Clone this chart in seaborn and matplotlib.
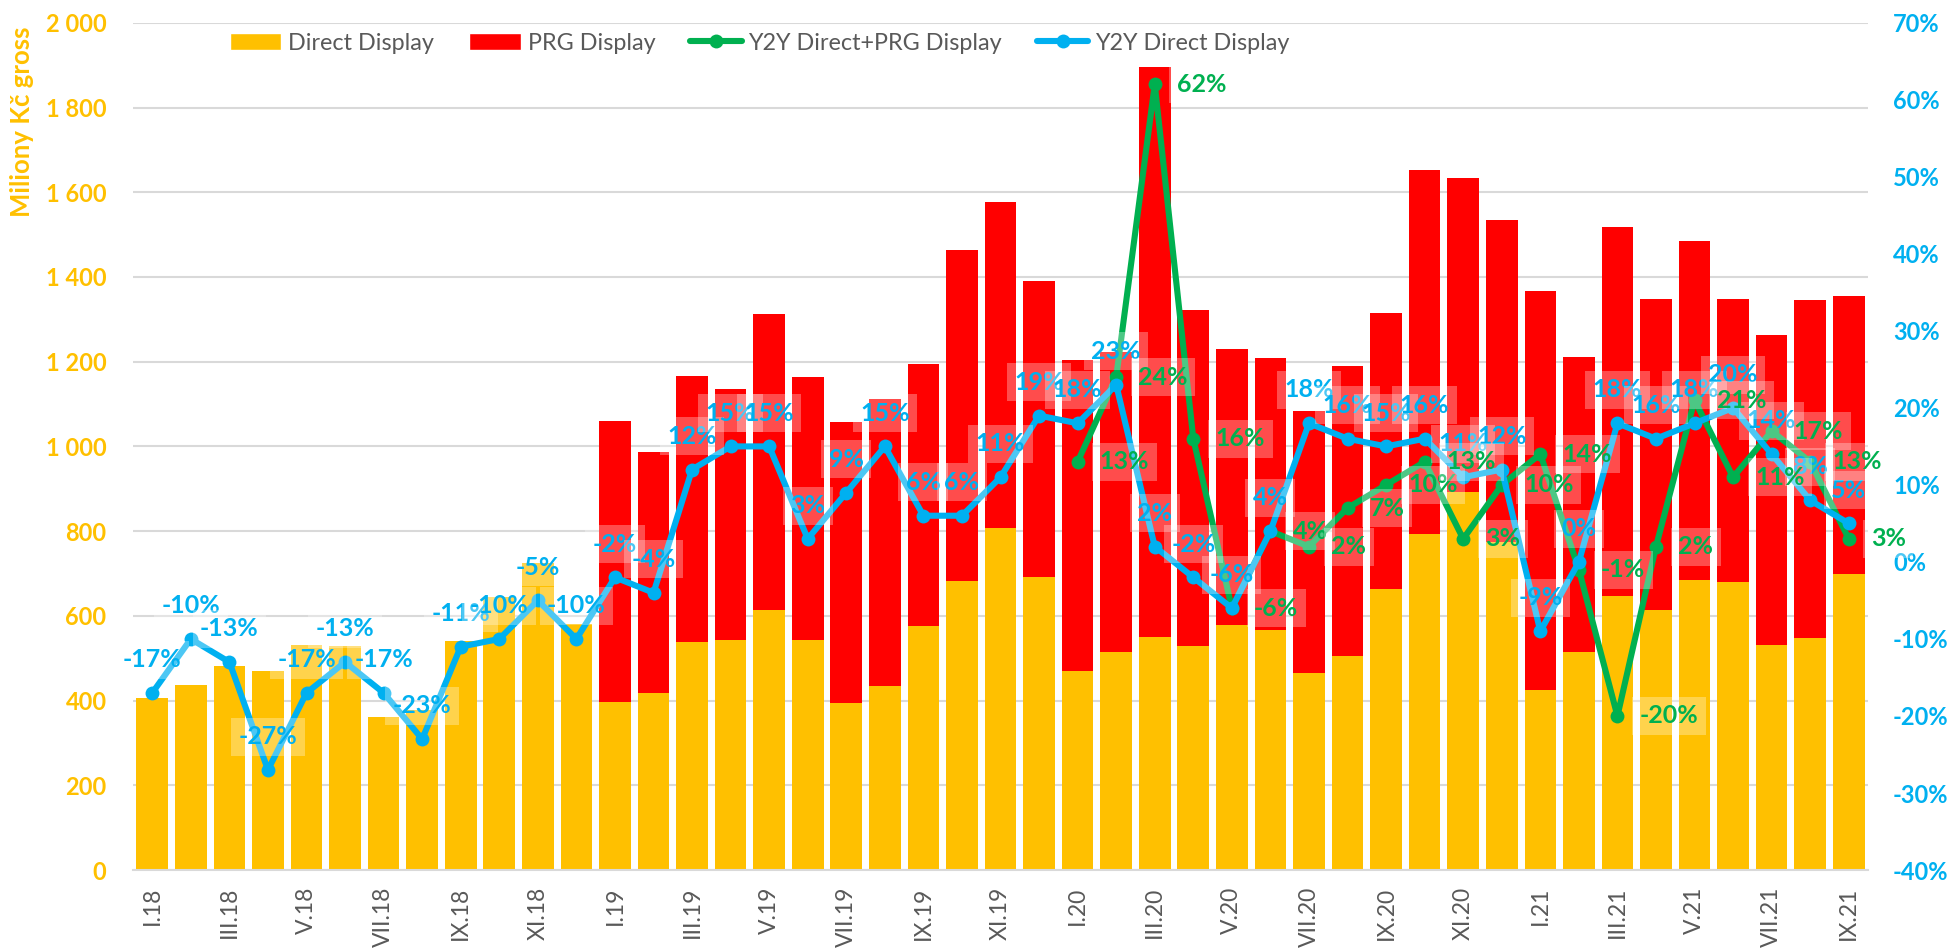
import numpy as np
import seaborn as sns
import matplotlib.pyplot as plt
from matplotlib.patches import Patch
from matplotlib.lines import Line2D

# months I.18 .. IX.21
roman = ['I', 'II', 'III', 'IV', 'V', 'VI', 'VII', 'VIII', 'IX', 'X', 'XI', 'XII']
months = [f"{r}.{y}" for y in ['18', '19', '20'] for r in roman] + [f"{r}.21" for r in roman[:9]]

# Direct Display (mil. Kč gross)
direct = [405, 437, 481, 471, 531, 528, 361, 378, 540, 645, 725, 581,
          396, 418, 538, 543, 614, 543, 394, 435, 575, 682, 808, 692,
          470, 514, 549, 529, 579, 567, 466, 505, 663, 794, 893, 775,
          426, 515, 647, 613, 684, 680, 531, 547, 699]

# top of the stacked bar = Direct + PRG Display
total = [405, 437, 481, 471, 531, 528, 361, 378, 540, 645, 725, 581,
         1060, 987, 1167, 1135, 1312, 1163, 1058, 1111, 1194, 1463, 1578, 1390,
         1204, 1222, 1896, 1322, 1231, 1209, 1084, 1190, 1316, 1652, 1633, 1534,
         1367, 1210, 1518, 1349, 1486, 1347, 1264, 1345, 1354]

# year-to-year change in %
y2y_direct = [-17, -10, -13, -27, -17, -13, -17, -23, -11, -10, -5, -10,
              -2, -4, 12, 15, 15, 3, 9, 15, 6, 6, 11, 19,
              18, 23, 2, -2, -6, 4, 18, 16, 15, 16, 11, 12,
              -9, 0, 18, 16, 18, 20, 14, 8, 5]
y2y_total = [13, 24, 62, 16, -6, 4, 2, 7, 10, 13, 3, 10,
             14, -1, -20, 2, 21, 11, 17, 13, 3]  # from I.20

ORANGE = '#FFC000'
RED = '#FF0000'
GREEN = '#00B050'
BLUE = '#00B0F0'
GREY = '#595959'

sns.set_theme(style='white')
plt.rcParams['font.family'] = ['Lato', 'DejaVu Sans']

fig = plt.figure(figsize=(19.53, 9.49), dpi=100)
ax = fig.add_axes([0.0681, 0.0832, 0.8884, 0.8928])

# stacked bars: red total first, orange direct over it
sns.barplot(x=months, y=total, color=RED, saturation=1, width=0.82, linewidth=0, ax=ax)
sns.barplot(x=months, y=direct, color=ORANGE, saturation=1, width=0.82, linewidth=0, ax=ax)

ax.set_ylim(0, 2000)
ax.set_yticks(range(0, 2001, 200), labels=[f"{v:,}".replace(',', ' ') for v in range(0, 2001, 200)],
              color=ORANGE, fontweight='bold')
ax.tick_params(axis='y', length=0, pad=19, labelsize=17)
ax.yaxis.grid(True, color='#D9D9D9', lw=1.5)
ax.set_axisbelow(True)
for s in ['top', 'left', 'right']:
    ax.spines[s].set_visible(False)
ax.spines['bottom'].set_color('#D9D9D9')
ax.spines['bottom'].set_linewidth(1.5)

# x ticks: marks between pairs of months, labels every other month
ax.set_xticks(np.arange(-0.5, 44, 2), labels=[''] * len(np.arange(-0.5, 44, 2)))
ax.set_xticks(range(0, 45, 2), labels=months[::2], minor=True)
ax.tick_params(axis='x', which='major', length=6, width=1.5, color='#D9D9D9')
ax.tick_params(axis='x', which='minor', length=0, pad=12, labelsize=16.5, labelcolor=GREY, labelrotation=90)
ax.set_xlabel('')
ax.set_ylabel('')

# Y2Y lines on right axis
ax2 = ax.twinx()
x_all = np.arange(len(months))
x_tot = x_all[24:]
sns.lineplot(x=x_tot, y=y2y_total, ax=ax2, color=GREEN, lw=4.4, marker='o', markersize=10,
             markeredgewidth=0)
sns.lineplot(x=x_all, y=y2y_direct, ax=ax2, color=BLUE, lw=4.4, marker='o', markersize=10,
             markeredgewidth=0)
ax2.set_ylim(-40, 70)
ax2.set_xlim(-0.5, 44.5)
ax.set_xlim(-0.5, 44.5)
ax2.set_yticks(range(-40, 71, 10), labels=[f"{t}%" for t in range(-40, 71, 10)],
               color=BLUE, fontweight='bold')
ax2.tick_params(axis='y', length=0, pad=18, labelsize=17)
ax2.set_ylabel('')
for s in ax2.spines.values():
    s.set_visible(False)

box = dict(boxstyle='square,pad=0.3', fc='white', ec='none', alpha=0.3)
for xi, v in zip(x_all, y2y_direct):
    ax2.annotate(f"{v}%", (xi, v), xytext=(0, 24), textcoords='offset points', ha='center', va='center',
                 color=BLUE, fontweight='bold', fontsize=18, bbox=box, zorder=5)
for xi, v in zip(x_tot, y2y_total):
    ax2.annotate(f"{v}%", (xi, v), xytext=(16, 0), textcoords='offset points', ha='left', va='center',
                 color=GREEN, fontweight='bold', fontsize=18, bbox=box, zorder=5)

fig.text(22 / 1953, 1 - 122 / 949, 'Miliony Kč gross', rotation=90, ha='center', va='center',
         color=ORANGE, fontweight='bold', fontsize=18.5)

handles = [Patch(fc=ORANGE), Patch(fc=RED),
           Line2D([], [], color=GREEN, lw=4.4, marker='o', ms=10, mew=0),
           Line2D([], [], color=BLUE, lw=4.4, marker='o', ms=10, mew=0)]
fig.legend(handles, ['Direct Display', 'PRG Display', 'Y2Y Direct+PRG Display', 'Y2Y Direct Display'],
           loc='center left', bbox_to_anchor=(230 / 1953, 1 - 43 / 949), ncol=4, frameon=False,
           fontsize=16.8, handlelength=2.2, handletextpad=0.3, columnspacing=1.5,
           borderpad=0, borderaxespad=0, labelcolor=GREY)

fig.savefig('out.png', dpi=100)
